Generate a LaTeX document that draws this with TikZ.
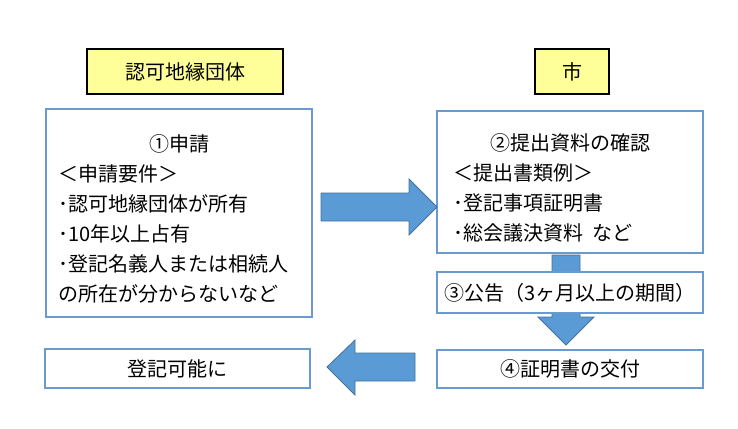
\documentclass[tikz,border=0pt]{standalone}
\usepackage{fontspec}
\setmainfont{Noto Sans CJK JP}
\usepackage{tikz}
\usepackage{xcolor}
\definecolor{boxblue}{HTML}{6A9BD0}
\definecolor{arrowfill}{HTML}{5B9BD5}
\definecolor{arrowline}{HTML}{41719C}
\definecolor{tagyellow}{HTML}{FFFF99}

\begin{document}
\begin{tikzpicture}[x=1pt, y=-1pt,
    every node/.style={font=\fontsize{20pt}{30pt}\selectfont, inner sep=0pt},
    tag/.style={draw=black, line width=1.8pt, fill=tagyellow, minimum height=45pt},
    box/.style={draw=boxblue, line width=1.4pt, fill=white, minimum width=266pt},
    bigarrow/.style={draw=arrowline, line width=0.8pt, fill=arrowfill}]
                \useasboundingbox (0,0) rectangle (738,428);

                \node[tag, minimum width=196pt] (T1) at (185,71.5) {認可地縁団体};
                \node[tag, minimum width=74pt] (T2) at (572,71.5) {市};

                \node[box, minimum height=208pt, text width=242pt, inner xsep=12pt, align=left] (B1) at (179,213)
                    {{\centering\rule{0pt}{28pt}①申請\par}＜申請要件＞\\･認可地縁団体が所有\\･10年以上占有\\･登記名義人または相続人\\の所在が分からないなど};
                \node[box, minimum height=142pt, text width=234pt, inner xsep=16pt, align=left] (B2) at (570,182)
                    {{\centering\rule{0pt}{28pt}②提出資料の確認\par}＜提出書類例＞\\･登記事項証明書\\･総会議決資料\hspace{10pt}など};
                \node[box, minimum height=38pt] (B4) at (570,369) {④証明書の交付};
                \node[box, minimum height=39pt, minimum width=265pt] (B5) at (177.5,368.5) {登記可能に};

                % down arrow under box 3
                \draw[bigarrow] (552,255) -- (580,255) -- (580,317) -- (594,317) -- (566,345)
                    -- (538,317) -- (552,317) -- cycle;
                \node[box, minimum height=41pt] (B3) at (570,292.5) {③公告（3ヶ月以上の期間）};

                \draw[bigarrow] (321,193) -- (409,193) -- (409,179) -- (437,207) -- (409,235)
                    -- (409,221) -- (321,221) -- cycle;
                \draw[bigarrow] (415,353) -- (355,353) -- (355,340) -- (327,367) -- (355,395)
                    -- (355,381) -- (415,381) -- cycle;
            \end{tikzpicture}
\end{document}
